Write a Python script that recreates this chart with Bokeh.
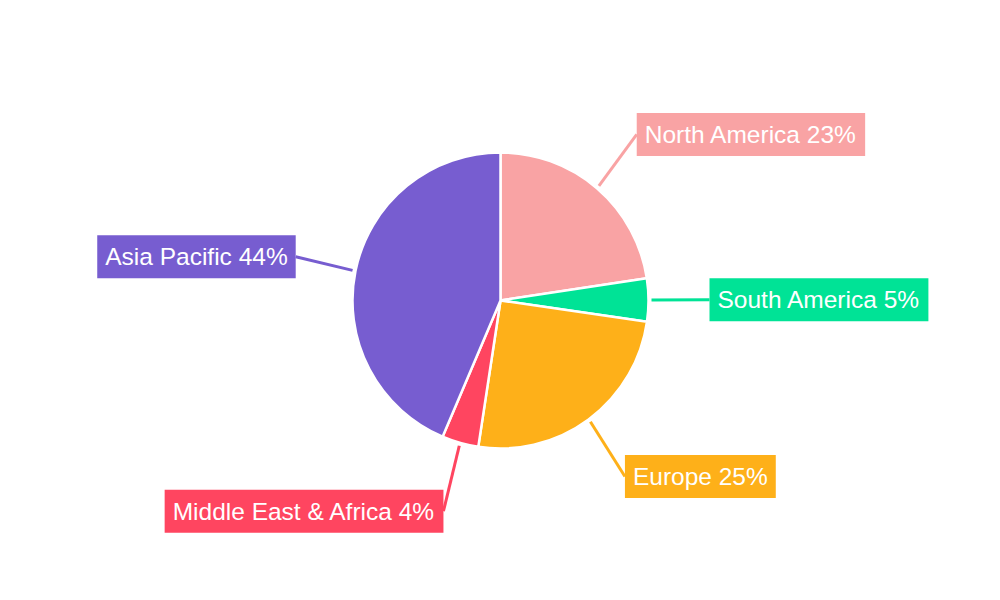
import math
from bokeh.plotting import figure
from bokeh.models import ColumnDataSource, Range1d
from bokeh.core.properties import value
from bokeh.embed import file_html
from bokeh.resources import INLINE

regions = ["North America", "South America", "Europe", "Middle East & Africa", "Asia Pacific"]
shares = [22.6, 4.7, 25.1, 4.0, 43.6]
colors = ["#F9A3A4", "#00E396", "#FEB019", "#FF4560", "#775DD0"]

W, H = 984, 584
CX, CY = 500, H - 300      # pie centre in pixel units (y measured upward)
R = 148                    # pie radius
R_LINE0 = 151              # leader line start radius
RX_LABEL, RY_LABEL = 209, 219  # label anchor ellipse

total = sum(shares)
starts, ends, mids = [], [], []
cum = 0.0
for s in shares:
    f0 = cum / total
    cum += s
    f1 = cum / total
    starts.append(math.pi / 2 - 2 * math.pi * f0)
    ends.append(math.pi / 2 - 2 * math.pi * f1)
    mids.append(math.pi / 2 - 2 * math.pi * (f0 + f1) / 2)

labels = [f"{n} {round(s / total * 100)}%" for n, s in zip(regions, shares)]
x0 = [CX + R_LINE0 * math.cos(a) for a in mids]
y0 = [CY + R_LINE0 * math.sin(a) for a in mids]
x1 = [CX + RX_LABEL * math.cos(a) for a in mids]
y1 = [CY + RY_LABEL * math.sin(a) for a in mids]
anchors = ["center_left" if math.cos(a) > 0 else "center_right" for a in mids]

src = ColumnDataSource(dict(start=starts, end=ends, color=colors, label=labels,
                            x0=x0, y0=y0, x1=x1, y1=y1, anchor=anchors))

p = figure(width=W, height=H, output_backend="svg", toolbar_location=None,
           x_range=Range1d(0, W), y_range=Range1d(0, H), min_border=0)
p.axis.visible = False
p.grid.visible = False
p.outline_line_color = None
p.background_fill_color = "white"
p.border_fill_color = "white"

p.wedge(x=CX, y=CY, radius=R, start_angle="end", end_angle="start",
        direction="anticlock", fill_color="color", line_color="white",
        line_width=2.5, source=src)
p.segment(x0="x0", y0="y0", x1="x1", y1="y1", line_color="color",
          line_width=3, source=src)
p.text(x="x1", y="y1", text="label", anchor="anchor", text_color="white",
       text_font=value("Liberation Sans"), text_font_size="24.5px",
       background_fill_color="color", padding=8, source=src)

open("out.html", "w").write(file_html(p, INLINE))
